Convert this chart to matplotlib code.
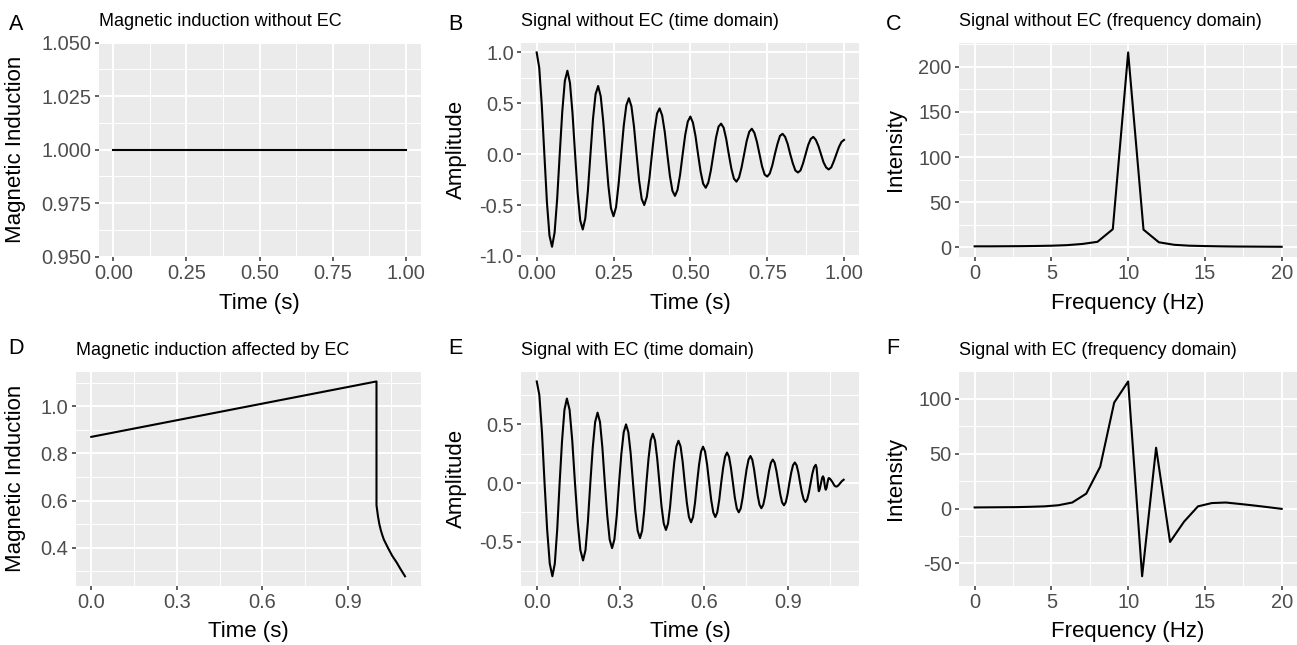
import matplotlib

matplotlib.use("Agg")
import matplotlib.pyplot as plt
import numpy as np

plt.rcParams["font.family"] = ["Liberation Sans", "DejaVu Sans"]
plt.rcParams["axes.unicode_minus"] = False

# --- data ------------------------------------------------------------------

# A: field without eddy currents
time_a = [0.0, 1.0]
field_a = [1.0, 1.0]

# B: damped signal without EC, one row per 0.1 s period (12 samples each)
amp_b = [1.00, 0.85, 0.48, 0.00, -0.47, -0.80, -0.91, -0.77, -0.44, 0.00, 0.42, 0.72,
         0.82, 0.70, 0.40, 0.00, -0.38, -0.65, -0.74, -0.63, -0.36, 0.00, 0.35, 0.59,
         0.67, 0.57, 0.32, 0.00, -0.31, -0.53, -0.61, -0.52, -0.29, 0.00, 0.28, 0.48,
         0.55, 0.47, 0.27, 0.00, -0.26, -0.44, -0.50, -0.42, -0.24, 0.00, 0.23, 0.40,
         0.45, 0.38, 0.22, 0.00, -0.21, -0.36, -0.41, -0.35, -0.20, 0.00, 0.19, 0.32,
         0.37, 0.31, 0.18, 0.00, -0.17, -0.29, -0.33, -0.28, -0.16, 0.00, 0.16, 0.27,
         0.30, 0.26, 0.15, 0.00, -0.14, -0.24, -0.27, -0.23, -0.13, 0.00, 0.13, 0.22,
         0.25, 0.21, 0.12, 0.00, -0.12, -0.20, -0.22, -0.19, -0.11, 0.00, 0.10, 0.18,
         0.20, 0.17, 0.10, 0.00, -0.09, -0.16, -0.18, -0.16, -0.09, 0.00, 0.09, 0.15,
         0.17, 0.14, 0.08, 0.00, -0.08, -0.13, -0.15, -0.13, -0.07, 0.00, 0.07, 0.12,
         0.14]
time_b = np.linspace(0.0, 1.0, len(amp_b))

# C: spectrum without EC
freq_c = list(range(21))
intensity_c = [1.0, 1.0, 1.1, 1.2, 1.4, 1.7, 2.3, 3.6, 6.0, 20.0, 216.0,
               19.5, 5.5, 2.7, 1.7, 1.3, 1.0, 0.8, 0.7, 0.6, 0.5]

# D: field affected by EC
time_d = [0.0, 1.0, 1.0, 1.005, 1.01, 1.015, 1.02, 1.026, 1.04, 1.055, 1.071, 1.085, 1.10]
field_d = [0.870, 1.105, 0.580, 0.535, 0.500, 0.475, 0.455, 0.434, 0.400, 0.366,
           0.337, 0.308, 0.279]

# E: signal with EC, one row per half cycle
time_e = [0.000, 0.0093, 0.0187, 0.028, 0.0373, 0.0467,
          0.056, 0.0647, 0.0733, 0.082, 0.0907, 0.0993,
          0.108, 0.1177, 0.1273, 0.137, 0.1467, 0.1563,
          0.166, 0.1747, 0.1833, 0.192, 0.2007, 0.2093,
          0.218, 0.2267, 0.2353, 0.244, 0.2527, 0.2613,
          0.270, 0.2783, 0.2867, 0.295, 0.3033, 0.3117,
          0.320, 0.3283, 0.3367, 0.345, 0.3533, 0.3617,
          0.370, 0.3777, 0.3853, 0.393, 0.4007, 0.4083,
          0.416, 0.4238, 0.4317, 0.4395, 0.4473, 0.4552,
          0.463, 0.4705, 0.478, 0.4855, 0.493, 0.5005,
          0.508, 0.5155, 0.523, 0.5305, 0.538, 0.5455,
          0.553, 0.5602, 0.5673, 0.5745, 0.5817, 0.5888,
          0.596, 0.6033, 0.6107, 0.618, 0.6253, 0.6327,
          0.640, 0.647, 0.654, 0.661, 0.668, 0.675,
          0.682, 0.689, 0.696, 0.703, 0.710, 0.717,
          0.724, 0.731, 0.738, 0.745, 0.752, 0.759,
          0.766, 0.7725, 0.779, 0.7855, 0.792, 0.7985,
          0.805, 0.8118, 0.8187, 0.8255, 0.8323, 0.8392,
          0.846, 0.8527, 0.8593, 0.866, 0.8727, 0.8793,
          0.886, 0.8925, 0.899, 0.9055, 0.912, 0.9185,
          0.925, 0.9313, 0.9377, 0.944, 0.9503, 0.9567,
          0.963, 0.9692, 0.9753, 0.9815, 0.9877, 0.9938,
          1.000, 1.003, 1.006, 1.009, 1.011, 1.014, 1.0185, 1.023,
          1.026, 1.029, 1.031, 1.034, 1.036, 1.039, 1.0415, 1.045,
          1.047, 1.050, 1.054, 1.0605, 1.067, 1.071, 1.074, 1.077,
          1.081, 1.087, 1.094, 1.100]
amp_e = [0.866, 0.750, 0.433, 0.0, -0.398, -0.688,
         -0.795, -0.688, -0.398, 0.0, 0.360, 0.624,
         0.720, 0.624, 0.360, 0.0, -0.330, -0.572,
         -0.660, -0.572, -0.330, 0.0, 0.300, 0.520,
         0.600, 0.520, 0.300, 0.0, -0.278, -0.481,
         -0.555, -0.481, -0.278, 0.0, 0.250, 0.433,
         0.500, 0.433, 0.250, 0.0, -0.235, -0.407,
         -0.470, -0.407, -0.235, 0.0, 0.210, 0.364,
         0.420, 0.364, 0.210, 0.0, -0.200, -0.346,
         -0.400, -0.346, -0.200, 0.0, 0.180, 0.312,
         0.360, 0.312, 0.180, 0.0, -0.168, -0.290,
         -0.335, -0.290, -0.168, 0.0, 0.155, 0.268,
         0.310, 0.268, 0.155, 0.0, -0.145, -0.251,
         -0.290, -0.251, -0.145, 0.0, 0.130, 0.225,
         0.260, 0.225, 0.130, 0.0, -0.125, -0.217,
         -0.250, -0.217, -0.125, 0.0, 0.115, 0.199,
         0.230, 0.199, 0.115, 0.0, -0.108, -0.186,
         -0.215, -0.186, -0.108, 0.0, 0.100, 0.173,
         0.200, 0.173, 0.100, 0.0, -0.095, -0.165,
         -0.190, -0.165, -0.095, 0.0, 0.088, 0.152,
         0.175, 0.152, 0.088, 0.0, -0.081, -0.140,
         -0.162, -0.140, -0.081, 0.0, 0.078, 0.134,
         0.155, 0.130, 0.050, -0.035, -0.070, -0.055, -0.005, 0.045,
         0.057, 0.040, 0.000, -0.045, -0.057, -0.040, -0.005, 0.035,
         0.043, 0.038, 0.028, 0.005, -0.022, -0.029, -0.030, -0.028,
         -0.020, -0.003, 0.017, 0.028]

# F: spectrum with EC
freq_f = [0.00, 0.91, 1.82, 2.73, 3.64, 4.55, 5.45, 6.36, 7.27, 8.18, 9.09,
          10.00, 10.91, 11.82, 12.73, 13.64, 14.55, 15.45, 16.36, 17.27,
          18.18, 19.09, 20.00]
intensity_f = [1.0, 1.1, 1.2, 1.3, 1.6, 2.0, 3.0, 5.5, 13.6, 38.2, 96.7,
               116.0, -61.8, 55.5, -30.5, -12.0, 2.0, 5.0, 5.5, 4.2,
               2.8, 1.3, -0.3]

# tick breaks
ticks_time4 = [0.0, 0.25, 0.5, 0.75, 1.0]
ticks_time3 = [0.0, 0.3, 0.6, 0.9]
ticks_freq = [0, 5, 10, 15, 20]
ticks_field_a = [0.95, 0.975, 1.0, 1.025, 1.05]
ticks_amp_b = [-1.0, -0.5, 0.0, 0.5, 1.0]
ticks_int_c = [0, 50, 100, 150, 200]
ticks_field_d = [0.4, 0.6, 0.8, 1.0]
ticks_amp_e = [-0.5, 0.0, 0.5]
ticks_int_f = [-50, 0, 50, 100]

# --- layout ------------------------------------------------------------------

W, H = 1297, 645
fig = plt.figure(figsize=(W / 100, H / 100), dpi=100)


def fx(px):
    return px / W


def fy(py):
    return 1 - py / H


def expand(values, mult=0.05):
    lo, hi = min(values), max(values)
    pad = (hi - lo) * mult
    return lo - pad, hi + pad


def minors(major):
    step = major[1] - major[0]
    ext = [major[0] - step] + list(major) + [major[-1] + step]
    return [(a + b) / 2 for a, b in zip(ext[:-1], ext[1:])]


def panel(box, letter, title, xlabel, ylabel, ylab_x, xlim, ylim,
          xticks, yticks, xfmt, yfmt):
    left, top, right, bottom = box
    ax = fig.add_axes([fx(left), fy(bottom), (right - left) / W, (bottom - top) / H])
    ax.set_facecolor("#EBEBEB")
    for spine in ax.spines.values():
        spine.set_visible(False)
    ax.set_xticks(xticks)
    ax.set_xticklabels([xfmt.format(v) for v in xticks])
    ax.set_yticks(yticks)
    ax.set_yticklabels([yfmt.format(v) for v in yticks])
    ax.set_xticks(minors(xticks), minor=True)
    ax.set_yticks(minors(yticks), minor=True)
    ax.set_xlim(*xlim)
    ax.set_ylim(*ylim)
    ax.grid(which="major", color="white", lw=1.4)
    ax.grid(which="minor", color="white", lw=0.7)
    ax.set_axisbelow(True)
    ax.tick_params(which="major", length=3.0, width=1.1, color="#333333",
                   labelsize=14.4, labelcolor="#4D4D4D", pad=2.4)
    ax.tick_params(which="minor", length=0)

    row_top = top < 200
    letter_base = 30 if row_top else 354
    title_base = 25.5 if row_top else 355
    xlab_base = 309 if row_top else 637.5
    fig.text(fx(letter[1]), fy(letter_base), letter[0], fontsize=15.5, va="baseline")
    fig.text(fx(left), fy(title_base), title, fontsize=13, va="baseline")
    fig.text(fx((left + right) / 2), fy(xlab_base), xlabel, fontsize=16,
             ha="center", va="baseline")
    fig.text(fx(ylab_x), fy((top + bottom) / 2), ylabel, fontsize=16,
             rotation=90, ha="center", va="center")
    return ax


line_kw = dict(color="black", lw=1.5, solid_joinstyle="round")

ax = panel((98.7, 42.7, 420.6, 256.5), ("A", 9), "Magnetic induction without EC",
           "Time (s)", "Magnetic Induction", 16, expand(time_a), (0.95, 1.05),
           ticks_time4, ticks_field_a, "{:.2f}", "{:.3f}")
ax.plot(time_a, field_a, **line_kw)

ax = panel((521.3, 42.7, 859.4, 256.5), ("B", 448), "Signal without EC (time domain)",
           "Time (s)", "Amplitude", 456, expand(time_b), expand(amp_b),
           ticks_time4, ticks_amp_b, "{:.2f}", "{:.1f}")
ax.plot(time_b, amp_b, **line_kw)

ax = panel((959.3, 42.7, 1297, 256.5), ("C", 886), "Signal without EC (frequency domain)",
           "Frequency (Hz)", "Intensity", 895, expand(freq_c), expand(intensity_c),
           ticks_freq, ticks_int_c, "{:d}", "{:d}")
ax.plot(freq_c, intensity_c, **line_kw)

ax = panel((75.6, 371.7, 420.7, 586), ("D", 8), "Magnetic induction affected by EC",
           "Time (s)", "Magnetic Induction", 16, expand(time_d), expand(field_d),
           ticks_time3, ticks_field_d, "{:.1f}", "{:.1f}")
ax.plot(time_d, field_d, **line_kw)

ax = panel((521.4, 371.7, 859, 586), ("E", 448), "Signal with EC (time domain)",
           "Time (s)", "Amplitude", 456, expand(time_e), expand(amp_e),
           ticks_time3, ticks_amp_e, "{:.1f}", "{:.1f}")
ax.plot(time_e, amp_e, **line_kw)

ax = panel((959.3, 371.7, 1297, 586), ("F", 886), "Signal with EC (frequency domain)",
           "Frequency (Hz)", "Intensity", 895, expand(freq_f), expand(intensity_f),
           ticks_freq, ticks_int_f, "{:d}", "{:d}")
ax.plot(freq_f, intensity_f, **line_kw)

fig.savefig("out.png", dpi=100)
